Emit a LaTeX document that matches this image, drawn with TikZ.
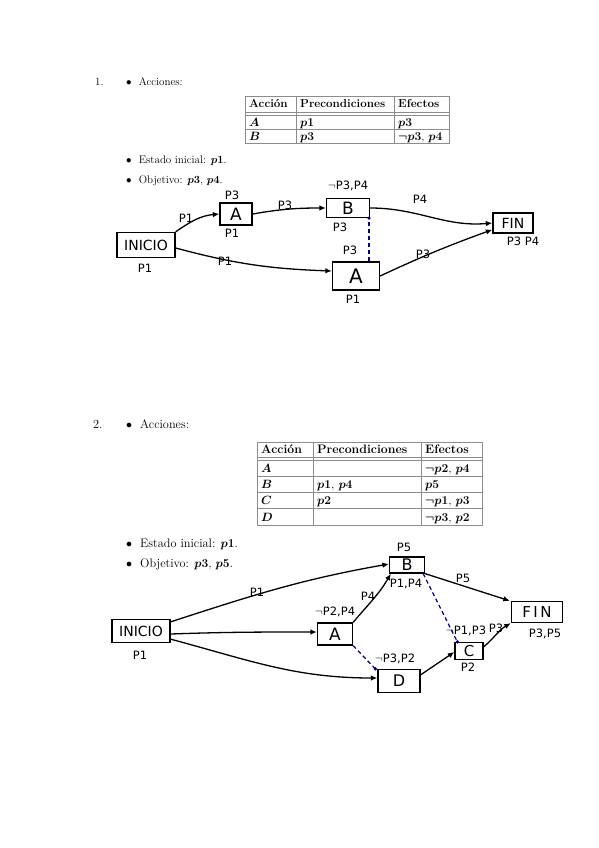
\documentclass[tikz,border=0pt]{standalone}
\usepackage{amsmath}
\usepackage{fontspec}
\newfontfamily\hand{DejaVu Sans}
\usetikzlibrary{arrows.meta}
\begin{document}
\begin{tikzpicture}[x=1pt,y=-1pt,
  txt/.style={anchor=base west,inner sep=0pt,font=\fontsize{11}{13}\selectfont},
  txtb/.style={anchor=base west,inner sep=0pt,font=\fontsize{12.3}{14}\selectfont},
  tc/.style={anchor=base west,inner sep=0pt,font=\fontsize{11.6}{13}\selectfont},
  tcb/.style={anchor=base west,inner sep=0pt,font=\fontsize{12.3}{14}\selectfont},
  hbox/.style={draw,line width=1.3pt,inner sep=0pt,font=\hand\fontsize{14}{14}\selectfont},
  hl/.style={inner sep=0.5pt,font=\hand\fontsize{11.5}{11.5}\selectfont},
  arr/.style={-{Latex[length=6.5pt,width=5.5pt]},line width=1.3pt},
  dep/.style={dashed,dash pattern=on 4pt off 3pt,draw=blue!55!black,line width=1.2pt},
  tline/.style={draw=black!45,line width=0.6pt}]
\useasboundingbox (0,0) rectangle (599,848);
\fill[white] (0,0) rectangle (599,848);

% ---------------- Section 1 text ----------------
\node[txt] (n1) at (95,86) {1.};
\node[txt] (b11) at (126,86) {$\bullet$\ \ Acciones:};
\node[txt] (b12) at (126,163) {$\bullet$\ \ Estado inicial: $\boldsymbol{p1}$.};
\node[txt] (b13) at (126,183) {$\bullet$\ \ Objetivo: $\boldsymbol{p3}$, $\boldsymbol{p4}$.};

% table 1
\draw[tline] (245,96) rectangle (449,143);
\draw[tline] (245,112) -- (449,112) (245,115) -- (449,115) (245,129) -- (449,129);
\draw[tline] (296,96) -- (296,143) (394,96) -- (394,143);
\node[tc] (t1h1) at (249,108) {\textbf{Acción}};
\node[tc] (t1h2) at (300,108) {\textbf{Precondiciones}};
\node[tc] (t1h3) at (398,108) {\textbf{Efectos}};
\node[tc] (t1a1) at (249,126) {$\boldsymbol{A}$};
\node[tc] (t1a2) at (300,126) {$\boldsymbol{p1}$};
\node[tc] (t1a3) at (398,126) {$\boldsymbol{p3}$};
\node[tc] (t1b1) at (249,140) {$\boldsymbol{B}$};
\node[tc] (t1b2) at (300,140) {$\boldsymbol{p3}$};
\node[tc] (t1b3) at (398,140) {$\boldsymbol{\neg p3}$, $\boldsymbol{p4}$};

% diagram 1
\node[hbox,minimum width=58pt,minimum height=25pt] (ini1) at (146,245) {INICIO};
\node[hbox,minimum width=32pt,minimum height=22pt,font=\hand\fontsize{17}{17}\selectfont] (a1s) at (236,214) {A};
\node[hbox,minimum width=43pt,minimum height=19pt,font=\hand\fontsize{17}{17}\selectfont] (b1) at (348,208) {B};
\node[hbox,minimum width=47pt,minimum height=28pt,font=\hand\fontsize{20}{20}\selectfont] (a1b) at (356,276) {A};
\node[hbox,minimum width=40pt,minimum height=20pt] (fin1) at (513,223) {FIN};

\node[hl] (l1a) at (145,268) {P1};
\node[hl] (l1b) at (232,195) {P3};
\node[hl] (l1c) at (232,233) {P1};
\node[hl] (l1d) at (348,186) {$\neg$P3,P4};
\node[hl] (l1e) at (340,227) {P3};
\node[hl] (l1f) at (350,250) {P3};
\node[hl] (l1g) at (353,299) {P1};
\node[hl] (l1h) at (523,241) {P3 P4};
\node[hl] (l1i) at (186,218) {P1};
\node[hl] (l1j) at (285,205) {P3};
\node[hl] (l1k) at (420,199) {P4};
\node[hl] (l1l) at (225,261) {P1};
\node[hl] (l1m) at (423,254) {P3};

\draw[arr] (ini1.north east) to[out=35,in=185] (a1s.west);
\draw[arr] (a1s.east) to[out=10,in=180] (b1.west);
\draw[arr] (b1.east) to[out=0,in=185] (fin1.west);
\draw[arr] (ini1.east) ++(0,3) coordinate (i1o) to[out=-15,in=178] ([yshift=5pt]a1b.west);
\draw[arr] (a1b.east) to[out=25,in=200] ([yshift=4pt]fin1.south west);
\coordinate (d1s) at ([xshift=13pt]a1b.north);
\coordinate (d1e) at ([xshift=21pt]b1.south);
\draw[dep] (d1s) -- (d1e);
\fill[blue!55!black] (d1e) circle (1.8pt);

% ---------------- Section 2 text ----------------
\node[txtb] (n2) at (93,428) {2.};
\node[txtb] (b21) at (126,428) {$\bullet$\ \ Acciones:};
\node[txtb] (b22) at (126,547) {$\bullet$\ \ Estado inicial: $\boldsymbol{p1}$.};
\node[txtb] (b23) at (126,567) {$\bullet$\ \ Objetivo: $\boldsymbol{p3}$, $\boldsymbol{p5}$.};

% table 2
\draw[tline] (257,442) rectangle (482,525);
\draw[tline] (257,457) -- (482,457) (257,460) -- (482,460) (257,476) -- (482,476)
  (257,492) -- (482,492) (257,508) -- (482,508);
\draw[tline] (313,442) -- (313,525) (421,442) -- (421,525);
\node[tcb] (t2h1) at (261,453) {\textbf{Acción}};
\node[tcb] (t2h2) at (317,453) {\textbf{Precondiciones}};
\node[tcb] (t2h3) at (425,453) {\textbf{Efectos}};
\node[tcb] (t2a1) at (261,472) {$\boldsymbol{A}$};
\node[tcb] (t2a3) at (425,472) {$\boldsymbol{\neg p2}$, $\boldsymbol{p4}$};
\node[tcb] (t2b1) at (261,488) {$\boldsymbol{B}$};
\node[tcb] (t2b2) at (317,488) {$\boldsymbol{p1}$, $\boldsymbol{p4}$};
\node[tcb] (t2b3) at (425,488) {$\boldsymbol{p5}$};
\node[tcb] (t2c1) at (261,504) {$\boldsymbol{C}$};
\node[tcb] (t2c2) at (317,504) {$\boldsymbol{p2}$};
\node[tcb] (t2c3) at (425,504) {$\boldsymbol{\neg p1}$, $\boldsymbol{p3}$};
\node[tcb] (t2d1) at (261,521) {$\boldsymbol{D}$};
\node[tcb] (t2d3) at (425,521) {$\boldsymbol{\neg p3}$, $\boldsymbol{p2}$};

% diagram 2
\node[hbox,minimum width=58pt,minimum height=23pt] (ini2) at (141,631) {INICIO};
\node[hbox,minimum width=35pt,minimum height=16pt,font=\hand\fontsize{16}{16}\selectfont] (b2) at (407,565) {B};
\node[hbox,minimum width=35pt,minimum height=22pt,font=\hand\fontsize{17}{17}\selectfont] (a2) at (335,634) {A};
\node[hbox,minimum width=42pt,minimum height=23pt,font=\hand\fontsize{16}{16}\selectfont] (d2) at (399,681) {D};
\node[hbox,minimum width=28pt,minimum height=17pt,font=\hand\fontsize{15}{15}\selectfont] (c2) at (469,651) {C};
\node[hbox,minimum width=51pt,minimum height=21pt,font=\hand\fontsize{15}{15}\selectfont] (fin2) at (537,612) {F\,I\,N};

\node[hl] (l2a) at (140,655) {P1};
\node[hl] (l2b) at (404,547) {P5};
\node[hl] (l2c) at (406,584) {P1,P4};
\node[hl] (l2d) at (335,612) {$\neg$P2,P4};
\node[hl] (l2e) at (395,659) {$\neg$P3,P2};
\node[hl] (l2f) at (466,631) {$\neg$P1,P3};
\node[hl] (l2g) at (468,667) {P2};
\node[hl] (l2h) at (545,634) {P3,P5};
\node[hl] (l2i) at (257,592) {P1};
\node[hl] (l2j) at (368,596) {P4};
\node[hl] (l2k) at (463,578) {P5};
\node[hl] (l2l) at (496,628) {P3};

\draw[arr] (ini2.north east) ++(0,3) coordinate (i2o) to[out=18,in=190] ([yshift=1pt]b2.west);
\draw[arr] (ini2.east) ++(0,3) coordinate (i2m) to[out=2,in=180] ([yshift=2pt]a2.west);
\draw[arr] (ini2.south east) ++(0,-4) coordinate (i2u) to[out=-15,in=180] ([yshift=3pt]d2.west);
\draw[arr] (a2.north east) to[out=50,in=240] ([xshift=2pt]b2.south west);
\draw[arr] (b2.south east) -- ([xshift=-1pt]fin2.north west);
\draw[arr] (d2.north east) ++(0,6) coordinate (d2o) -- ([yshift=-1pt]c2.west);
\draw[arr] (c2.north east) ++(0,5) coordinate (c2o) to[out=40,in=210] (fin2.south west);

\draw[dep] (a2.south east) -- ([xshift=-2pt]d2.north west);
\fill[blue!55!black] ([xshift=-2pt]d2.north west) circle (1.8pt);
\draw[dep] ([xshift=-2pt]b2.south east) -- ([xshift=3pt]c2.north west);
\fill[blue!55!black] ([xshift=3pt]c2.north west) circle (1.8pt);
\end{tikzpicture}
\end{document}
